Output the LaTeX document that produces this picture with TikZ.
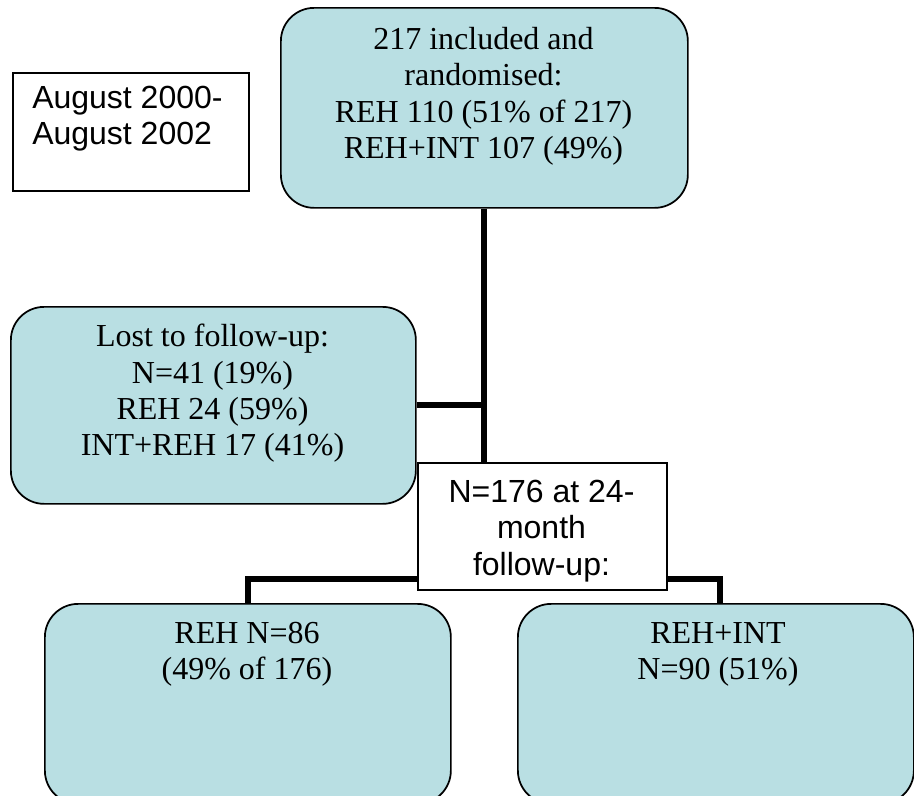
\documentclass[tikz,border=0pt]{standalone}
\usepackage{fontspec}
\setmainfont{Liberation Serif}
\newfontfamily\arialfont{Liberation Sans}
\usetikzlibrary{backgrounds}
\definecolor{boxfill}{RGB}{185,223,227}
\begin{document}
\begin{tikzpicture}[x=0.75pt,y=-0.75pt,
  rbox/.style={draw=black, line width=1.3pt, fill=boxfill, rounded corners=25pt, inner sep=0pt, anchor=north west},
  wbox/.style={draw=black, line width=1.3pt, fill=white, inner sep=0pt, anchor=north west},
  link/.style={draw=black, line width=4.5pt},
  txt/.style={font=\fontsize{24}{27.3}\selectfont, inner sep=0pt, anchor=north, align=center},
  atxt/.style={font=\arialfont\fontsize{24}{27.3}\selectfont, inner sep=0pt}]
\useasboundingbox (0,0) rectangle (914,796);

% boxes
\node[rbox, minimum width=305.25pt, minimum height=150pt] (top) at (280,7) {};
\node[wbox, minimum width=177pt, minimum height=88.5pt] (date) at (12,72) {};
\node[rbox, minimum width=303.75pt, minimum height=147.75pt] (lost) at (10,306) {};
\node[wbox, minimum width=186.75pt, minimum height=95.25pt] (n176) at (417,462) {};
\node[rbox, minimum width=304.5pt, minimum height=150pt] (bl) at (44,603) {};
\node[rbox, minimum width=297pt, minimum height=150pt] (br) at (517,603) {};

% texts
\node[txt] (topT) at (483.5,23.5) {\strut 217 included and\\\strut randomised:\\\strut REH 110 (51\% of 217)\\\strut REH+INT 107 (49\%)};
\node[atxt, anchor=north west, align=left] (dateT) at (32,82.5) {\strut August 2000-\\\strut August 2002};
\node[txt] (lostT) at (212.5,321) {\strut Lost to follow-up:\\\strut N=41 (19\%)\\\strut REH 24 (59\%)\\\strut INT+REH 17 (41\%)};
\node[atxt, anchor=north, align=center] (n176T) at (541.5,476.5) {\strut N=176 at 24-\\\strut month\\\strut follow-up:};
\node[txt] (blT) at (247,617.5) {\strut REH N=86\\\strut (49\% of 176)};
\node[txt] (brT) at (718,617.5) {\strut REH+INT\\\strut N=90 (51\%)};

% connectors
\coordinate (brjoin) at ([xshift=3pt]br.north);
\begin{pgfonlayer}{background}
\fill[white] (0,0) rectangle (914,796);
\draw[link] (top.south) -- (top.south |- n176.north);
\draw[link] (lost.east) -- (lost.east -| top.south);
\draw[link] (bl.north) -- ++(0,-24) -| (brjoin);
\end{pgfonlayer}
\end{tikzpicture}
\end{document}
